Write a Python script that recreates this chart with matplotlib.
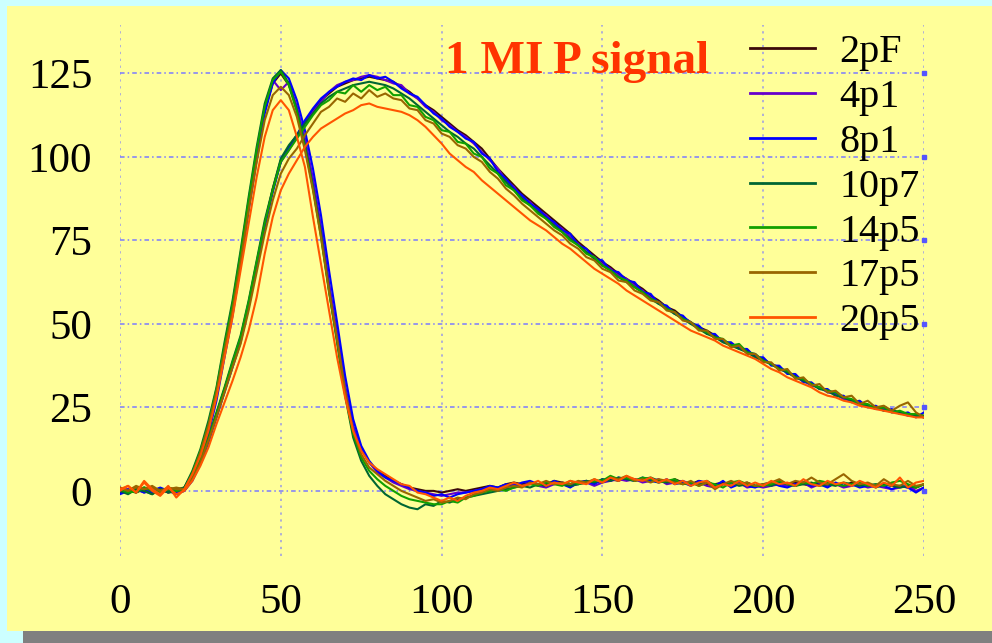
import matplotlib
matplotlib.use("Agg")
import matplotlib.pyplot as plt
from matplotlib.patches import Rectangle

# sample times (ns), one point every 2.5
t = [i * 2.5 for i in range(101)]

labels = ["2pF", "4p1", "8p1", "10p7", "14p5", "17p5", "20p5"]
colors = ["#3c0a0a", "#6600cc", "#0000ff", "#006633", "#11a000", "#996600", "#ff5500"]

# fast shaper output
fast_2pF = [
    0.5, -0.5, 1, 0, 0.5, -0.5, 0.5, 0, 1, 5.5,
    11.5, 19.5, 30, 43, 55, 70, 86, 101, 114, 122,
    125, 121.5, 114.5, 104.5, 92, 78, 61.5, 46, 30.5, 19,
    12.5, 8.5, 6, 4.5, 3, 2, 1, 0.5, 0, 0,
    -0.5, 0, 0.5, 0, 0.5, 1, 1.5, 1, 2, 2.5,
    2, 2.5, 2, 2, 3, 2.5, 2, 2.5, 3, 2.5,
    3, 3.5, 3, 4, 3.5, 3, 3.5, 3, 2.5, 3.5,
    2.5, 2, 3, 2, 2, 2.5, 1.5, 2, 2.5, 1.5,
    1.5, 2, 2.5, 2, 2.5, 2, 1.5, 2.5, 2, 2,
    1.5, 2.5, 2, 2, 1.5, 2, 1.5, 1.5, 1, 1, 2]
fast_4p1 = [
    0, 0.5, -0.5, 1, 0, 0.5, -0.5, 0.5, 0.5, 4.5,
    10.5, 18.5, 29, 41.5, 54, 69, 85.5, 100.5, 114.5, 123,
    120, 122.5, 115, 105.5, 93.5, 79, 62, 47.5, 31.5, 19.5,
    13, 8.5, 5.5, 4, 2.5, 1.5, 0.5, 0, -0.5, -1,
    -1.5, -1, -0.5, -0.5, 0, 0.5, 1, 0.5, 1.5, 2,
    1.5, 2.5, 1.5, 1, 2, 2.5, 1.5, 2, 2.5, 1.5,
    2.5, 3, 3.5, 3, 3.5, 2.5, 3, 3.5, 2, 2.5,
    3, 2, 2.5, 1.5, 1, 2, 1.5, 2.5, 1, 1.5,
    1, 1.5, 2, 1.5, 2, 2.5, 1, 2, 1.5, 2,
    1, 1.5, 2, 1, 1.5, 1, 0.5, 1, 1.5, 0, 1]
fast_8p1 = [
    -1, 0, 0.5, -0.5, 0, 1, 0, -0.5, 0.5, 3.5,
    9, 17, 27, 40, 52.5, 67.5, 84, 99, 113, 122,
    126, 123.5, 117, 108, 96.5, 82.5, 66, 50.5, 34.5, 21.5,
    13.5, 9, 6, 4, 3, 2, 1, 0, -0.5, -1.5,
    -1, -2, -1, -0.5, 0, 0.5, 1.5, 1, 2, 1.5,
    2.5, 3, 2, 1.5, 3, 2, 1, 2.5, 3, 2,
    3.5, 3, 4, 3.5, 3, 4, 3, 2.5, 3.5, 2,
    2.5, 1.5, 3, 2.5, 1.5, 3, 1, 2, 1.5, 1,
    2, 2.5, 1.5, 1, 2, 2.5, 1.5, 2, 1, 2.5,
    1.5, 2, 1, 1.5, 2, 1.5, 0.5, 1.5, 1, -0.5, 1]
fast_10p7 = [
    0, -1, 0.5, 0, -1, 0.5, -0.5, 0, 1, 6,
    12.5, 21, 31, 44.5, 57, 72, 88, 103, 116, 123.5,
    126, 122, 114, 103.5, 91, 77, 60, 44.5, 28.5, 16,
    9, 4.5, 1.5, -1, -2.5, -4, -5, -5.5, -4, -4.5,
    -3, -3.5, -2.5, -2, -1.5, -1, -0.5, 0, 0.5, 1,
    1.5, 1, 2, 1.5, 2.5, 2, 1.5, 2, 3, 2.5,
    3.5, 3, 4, 3.5, 3, 3.5, 4, 3, 2.5, 3,
    2, 2.5, 2, 3, 1.5, 2, 2.5, 1.5, 2, 1.5,
    2, 1.5, 2.5, 2, 1.5, 2, 2.5, 1.5, 2, 1.5,
    2.5, 2, 1.5, 2, 1, 2, 1.5, 1, 1.5, 1, 2]
fast_14p5 = [
    0.5, 0, -0.5, 1, 0.5, -1, 1, 0, 0.5, 5.5,
    12, 20, 30.5, 43.5, 56, 71, 87, 102, 115, 123,
    125.5, 121.5, 113.5, 103, 90.5, 76, 59.5, 45, 29, 17,
    10, 6, 3.5, 1.5, 0, -1.5, -2.5, -3, -3.5, -4,
    -4, -3, -3.5, -2, -1.5, -0.5, 0, 0.5, 0, 1,
    1.5, 2, 1.5, 2.5, 2, 1.5, 3, 2, 2.5, 3,
    3, 4.5, 3.5, 4, 3, 4, 3.5, 2.5, 3, 3.5,
    2, 2.5, 1.5, 2.5, 2, 1, 2.5, 3, 2, 1.5,
    1.5, 2, 3, 2, 1.5, 2.5, 2, 3, 2.5, 2,
    1.5, 2, 2.5, 1.5, 2, 1.5, 2.5, 3, 2, 1, 2]
fast_17p5 = [
    1, 0, 1.5, 0.5, 1, 0, 0.5, 1, 0.5, 5,
    11.5, 19.5, 29.5, 42, 54, 68.5, 84, 98.5, 111, 118.5,
    121, 118.5, 112, 102, 90, 76, 60, 45.5, 30, 18,
    11, 7, 5, 3, 1.5, 0, -1, -2, -3, -2.5,
    -3.5, -3, -2, -2.5, -1, -0.5, 0.5, 0, 1, 1.5,
    1, 2.5, 2, 3, 2, 2.5, 2, 3, 2.5, 3.5,
    2.5, 4, 3.5, 4.5, 3, 3.5, 2.5, 3.5, 3, 2.5,
    2, 3, 1.5, 2.5, 0.5, 2, 3, 2, 2.5, 1.5,
    2, 2.5, 3.5, 2, 3, 2.5, 4, 2.5, 2, 3.5,
    5, 3, 2, 2.5, 1.5, 3.5, 2, 1.5, 3, 1.5, 2]
fast_20p5 = [
    0, 1.5, -0.5, 3, 0.5, -1, 1.5, -2, 0.5, 5,
    10.5, 18, 28, 40, 52, 66, 80, 94, 106, 114,
    117, 114, 106, 97, 82, 68, 54, 40, 28, 18,
    12, 8.5, 6.5, 5, 3.5, 2, 1.5, -0.5, -1, -2,
    -3, -2, -3, -1.5, -0.5, 0, 1, 0.5, 1.5, 2.5,
    1.5, 2, 3, 1.5, 2.5, 2, 3, 2.5, 2, 3.5,
    2.5, 4, 3, 4.5, 3.5, 3, 4, 2.5, 3.5, 2,
    3, 1.5, 2.5, 3, 1, 2, 1.5, 3, 1.5, 2.5,
    1.5, 3, 2, 2.5, 1.5, 3.5, 2, 1.5, 3, 2,
    2.5, 1.5, 3, 2, 1, 2.5, 1.5, 4, 1, 2.5, 3]

# slow shaper output
slow_2pF = [
    0, 0.5, -0.5, 0.5, 0, 0.5, -0.5, 0, 0.5, 4,
    9, 15.5, 23, 30.5, 38, 45.5, 56, 68, 80, 90.5,
    99, 103, 106.5, 110.5, 114, 117, 119, 121, 122, 123,
    123.5, 124, 123.5, 123, 122.5, 121, 119.5, 117.5, 115.5, 114,
    112, 110, 108, 106.5, 104.5, 102.5, 99.5, 96.5, 94, 91.5,
    89, 87, 85, 83, 81, 79, 77, 74.5, 72.5, 70.5,
    68.5, 67, 65, 63.5, 62, 60.5, 58.5, 57, 55, 54,
    52, 50.5, 49, 48, 46.5, 45, 44, 43, 42, 40.5,
    39.5, 38, 37, 35.5, 34.5, 33, 32, 31, 30, 29,
    28, 27, 26.5, 25.5, 25, 24.5, 24, 23.5, 23, 22.5, 22.5]
slow_4p1 = [
    0.5, 0, 0.5, -0.5, 1, 0, 0.5, -0.5, 0, 3.5,
    8.5, 15, 22.5, 30, 37.5, 45, 55.5, 67.5, 79.5, 90,
    98.5, 102, 106, 110, 113.5, 116.5, 119.5, 121.5, 122.5, 123,
    124, 124.5, 124, 123, 122, 121.5, 119, 117.5, 115, 113.5,
    111, 109.5, 107.5, 106, 104, 101.5, 99, 96.5, 93, 91,
    88, 86.5, 84, 82.5, 80, 78.5, 76, 74, 71.5, 70,
    68, 66.5, 64.5, 63.5, 61.5, 60, 58, 56.5, 55, 53,
    52, 50.5, 48.5, 47.5, 46, 45, 43.5, 43, 41.5, 41,
    39, 38, 36.5, 35.5, 34, 33, 31.5, 31, 29.5, 29,
    27.5, 27, 26, 25.5, 24.5, 24.5, 23.5, 23.5, 22.5, 22.5, 22]
slow_8p1 = [
    -0.5, 0, 0.5, 0, -0.5, 0.5, 0, -1, 0, 3,
    8, 14.5, 22, 29.5, 37, 44.5, 55, 67, 79, 89.5,
    98.5, 103, 106.5, 111, 114.5, 117.5, 119.5, 121, 122.5, 123.5,
    123, 124.5, 123.5, 124, 122.5, 120.5, 119, 118, 115.5, 113,
    111.5, 109, 107.5, 105.5, 104.5, 101, 99.5, 95.5, 93.5, 90.5,
    88.5, 86, 84.5, 82, 80.5, 78, 77, 73.5, 72.5, 69.5,
    69, 66, 65.5, 63, 62.5, 59.5, 59, 56, 55.5, 53,
    52.5, 50, 49.5, 47, 47, 44.5, 44.5, 42.5, 42.5, 40,
    40, 37.5, 37.5, 35, 35, 32.5, 32.5, 30.5, 30.5, 28.5,
    28.5, 26.5, 27, 25, 25.5, 24, 24.5, 23, 23.5, 22, 23.5]
slow_10p7 = [
    0, -0.5, 0.5, 0, -1, 0.5, 0, 0.5, 1, 4.5,
    9.5, 16, 23.5, 31, 39, 46.5, 57, 69, 81, 90.5,
    99.5, 103.5, 106.5, 110, 113, 116, 118, 119.5, 120.5, 121.5,
    122, 122.5, 122, 121.5, 120.5, 119, 117.5, 115.5, 113.5, 111.5,
    109.5, 107.5, 106, 104, 102.5, 100, 97.5, 95, 92.5, 90,
    87.5, 85.5, 83.5, 81.5, 79.5, 77.5, 75.5, 73.5, 71.5, 69.5,
    67.5, 66, 64, 62.5, 61, 59.5, 57.5, 56, 54.5, 53,
    51.5, 50, 48.5, 47, 46, 44.5, 43.5, 42.5, 41.5, 40,
    39, 38, 36.5, 35.5, 34, 33, 32, 30.5, 30, 28.5,
    28, 27, 26, 25.5, 25, 24, 24, 23.5, 23, 22.5, 22]
slow_14p5 = [
    0.5, -0.5, 0, 1, 0, -0.5, 0.5, 0, 0.5, 4,
    9, 15.5, 23, 30.5, 38.5, 46, 56.5, 68.5, 80, 90,
    98.5, 102, 105.5, 109, 112.5, 115.5, 117, 119.5, 119, 121.5,
    119.5, 121.5, 120, 121, 118.5, 118.5, 115.5, 115, 112, 111,
    108, 107.5, 104.5, 104, 101, 100, 96.5, 95, 91.5, 90,
    87, 85.5, 83, 81.5, 79, 77.5, 75, 73.5, 71, 70,
    67.5, 66, 64, 63, 61, 59.5, 57.5, 56.5, 54.5, 53.5,
    51.5, 50.5, 48.5, 47.5, 46, 45.5, 43.5, 44, 41.5, 41,
    39, 38, 36.5, 36, 34, 33.5, 32, 31, 30, 29.5,
    28, 27.5, 26, 26, 24.5, 25, 23.5, 24, 23, 23, 22.5]
slow_17p5 = [
    1, 0, 1, 0.5, 1.5, 0, 1, 0.5, 0.5, 3.5,
    8.5, 15, 22, 29.5, 37, 44, 54, 65.5, 77, 87,
    95, 99.5, 102.5, 106.5, 110, 113.5, 115, 117.5, 116.5, 119,
    117.5, 120, 118, 119, 117.5, 117, 114.5, 114, 111, 110,
    107, 106, 103.5, 102.5, 100, 98.5, 95.5, 93.5, 90.5, 88.5,
    86, 84, 82, 80, 78, 76.5, 74, 72.5, 70, 69,
    66.5, 65.5, 63, 62.5, 60, 59, 57, 56.5, 54, 53.5,
    51, 50.5, 48, 48, 45.5, 45.5, 43, 43.5, 41, 41,
    38.5, 38.5, 36, 36.5, 33.5, 34, 31.5, 32, 29.5, 30,
    28, 28.5, 26, 27, 25, 25.5, 24, 25.5, 26.5, 23.5, 22]
slow_20p5 = [
    0.5, 1.5, -0.5, 2.5, 0, -1.5, 1, -1, 0, 3,
    7.5, 13, 20, 26.5, 33, 40, 48, 58, 71, 82,
    90, 95, 99, 103, 106, 108.5, 110, 111.5, 113, 114,
    115.5, 116, 115, 114.5, 114, 113.5, 112.5, 111, 109, 106.5,
    104, 101, 99, 97, 95.5, 93, 91, 89, 87, 85,
    83, 81, 79.5, 78, 76, 74, 72.5, 70.5, 68.5, 66.5,
    65, 63.5, 62, 60, 58.5, 57, 55.5, 54, 52.5, 51,
    49.5, 48, 47, 46, 45, 43.5, 42.5, 41.5, 40.5, 39.5,
    38, 36.5, 35.5, 34, 33, 32, 31, 29.5, 28.5, 28,
    27, 26.5, 25.5, 25, 24.5, 24, 23.5, 23, 22.5, 22, 22]

fast = [fast_2pF, fast_4p1, fast_8p1, fast_10p7, fast_14p5, fast_17p5, fast_20p5]
slow = [slow_2pF, slow_4p1, slow_8p1, slow_10p7, slow_14p5, slow_17p5, slow_20p5]

xticks = [0, 50, 100, 150, 200, 250]
yticks = [0, 25, 50, 75, 100, 125]

plt.rcParams['font.family'] = ['Liberation Serif', 'DejaVu Serif']

W, H = 992, 643
fig = plt.figure(figsize=(W / 100, H / 100), dpi=100, facecolor="#ccffff")
# yellow panel + grey shadow, drawn behind the axes
fig.add_artist(Rectangle((23 / W, 0), 1, 12 / H, transform=fig.transFigure,
                         facecolor="#808080", edgecolor="none", zorder=-10))
fig.add_artist(Rectangle((7 / W, 12 / H), 1, 1 - 18 / H, transform=fig.transFigure,
                         facecolor="#ffff99", edgecolor="none", zorder=-10))

ax = fig.add_axes([120 / W, 1 - 556 / H, 804 / W, 531 / H])
ax.set_facecolor("none")
for s in ax.spines.values():
    s.set_visible(False)

for k in range(len(labels)):
    ax.plot(t, fast[k], color=colors[k], lw=1.5, label=labels[k])
    ax.plot(t, slow[k], color=colors[k], lw=1.5)

ax.set_xlim(0, 250)
ax.set_ylim(-19.5, 139.5)
ax.set_xticks(xticks)
ax.set_yticks(yticks)
ax.tick_params(length=0, labelsize=31, pad=20)
ax.xaxis.grid(True, color="#9a9ae6", lw=1.1, linestyle=(0, (1.5, 3)))
ax.yaxis.grid(True, color="#7a7aff", lw=1.1, linestyle=(0, (3, 2, 1, 2)))
ax.set_axisbelow(True)
ax.plot([250] * len(yticks), yticks, "s", color="#5555ff", ms=2.5, clip_on=False)

leg = ax.legend(loc="upper left", bbox_to_anchor=(750 / W, 1 - 34 / H),
                bbox_transform=fig.transFigure, frameon=False, fontsize=29,
                handlelength=1.62, handletextpad=0.6, labelspacing=0.19,
                borderpad=0, borderaxespad=0)
for line in leg.get_lines():
    line.set_linewidth(2)

fig.text(445 / W, 1 - 73 / H, "1 MI\u2009P signal", color="#ff3300", fontsize=34,
         fontweight="bold", ha="left", va="baseline")

fig.savefig("out.png", dpi=100, facecolor=fig.get_facecolor())
